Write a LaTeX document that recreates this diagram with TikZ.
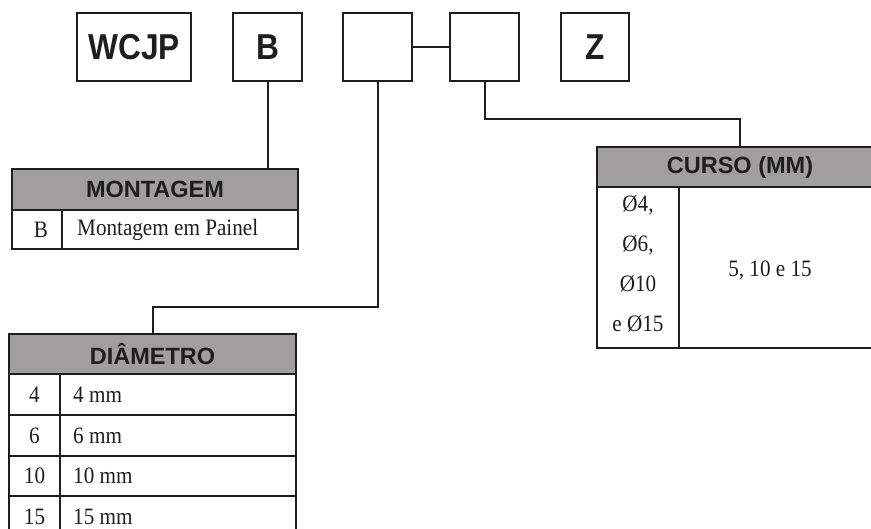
\documentclass[tikz,border=0pt]{standalone}
\usepackage{fontspec}
\setmainfont{Liberation Serif}
\newfontfamily\bodyf{Liberation Serif}[FakeStretch=0.9]
\newfontfamily\headf{Liberation Sans}
\newfontfamily\topf{Liberation Sans}[FakeStretch=0.88]
\definecolor{hdr}{RGB}{160,159,157}
\definecolor{ink}{RGB}{30,30,30}
\tikzset{
  topbox/.style={draw=ink, line width=2.2pt, minimum width=69pt, minimum height=68pt, inner sep=0pt,
    font=\topf\bfseries\fontsize{36}{36}\selectfont, text=ink},
  hdrbox/.style={draw=ink, fill=hdr, line width=2.2pt, minimum height=40pt, inner sep=0pt,
    font=\headf\bfseries\fontsize{23.5}{24}\selectfont, text=ink},
  cell/.style={font=\bodyf\fontsize{23.5}{24}\selectfont, text=ink, inner sep=0pt},
  gridline/.style={draw=ink, line width=2pt},
  conn/.style={draw=ink, line width=2pt}
}
\begin{document}
\begin{tikzpicture}[x=1pt,y=-1pt]
\useasboundingbox (0,0) rectangle (871,528);
\clip (0,0) rectangle (871,528);
\fill[white] (0,0) rectangle (871,528);

% top code boxes
\node[topbox, minimum width=114pt] (w) at (134,47) {WCJP};
\node[topbox] (b) at (267.5,47) {B};
\node[topbox] (c3) at (377.5,47) {};
\node[topbox] (c4) at (484.5,47) {};
\node[topbox, minimum width=68pt] (z) at (595,47) {Z};

% table headers
\node[hdrbox, minimum width=286pt, minimum height=41pt] (mont) at (155,189.5) {MONTAGEM};
\node[hdrbox, minimum width=287pt] (diam) at (152.5,354) {DIÂMETRO};
\node[hdrbox, minimum width=286pt] (curso) at (740,167) {CURSO (MM)};

% MONTAGEM grid
\draw[gridline] (12,210) rectangle (298,249);
\draw[gridline] (62,210) -- (62,249);
\node[cell] (mb) at (41,229.5) {B};
\node[cell, anchor=west] (mt) at (77,229.5) {Montagem em Painel};

% DIAMETRO grid
\draw[gridline] (9,374) rectangle (296,537);
\draw[gridline] (60,374) -- (60,537);
\foreach \yy in {415,456,496} \draw[gridline] (9,\yy) -- (296,\yy);
\node[cell] (d1a) at (34.5,394.5) {4};
\node[cell, anchor=west] (d1b) at (73,394.5) {4 mm};
\node[cell] (d2a) at (34.5,435.5) {6};
\node[cell, anchor=west] (d2b) at (73,435.5) {6 mm};
\node[cell] (d3a) at (34.5,476) {10};
\node[cell, anchor=west] (d3b) at (73,476) {10 mm};
\node[cell] (d4a) at (34.5,516.5) {15};
\node[cell, anchor=west] (d4b) at (73,516.5) {15 mm};

% CURSO grid
\draw[gridline] (597,187) rectangle (883,348);
\draw[gridline] (679,187) -- (679,348);
\node[cell, align=center, font=\bodyf\fontsize{23.5}{40}\selectfont] (cl) at (638,264) {Ø4,\\Ø6,\\Ø10\\e Ø15};
\node[cell] (cr) at (770,270) {5, 10 e 15};

% connectors
\draw[conn] (c3.east) -- (c4.west);
\draw[conn] (b.south) -- (b.south |- mont.north);
\coordinate (k1) at (152.5,307);
\draw[conn] (c3.south) |- (k1) -- (diam.north);
\coordinate (k2) at (740,119);
\draw[conn] (c4.south) |- (k2) -- (curso.north);
\end{tikzpicture}
\end{document}
